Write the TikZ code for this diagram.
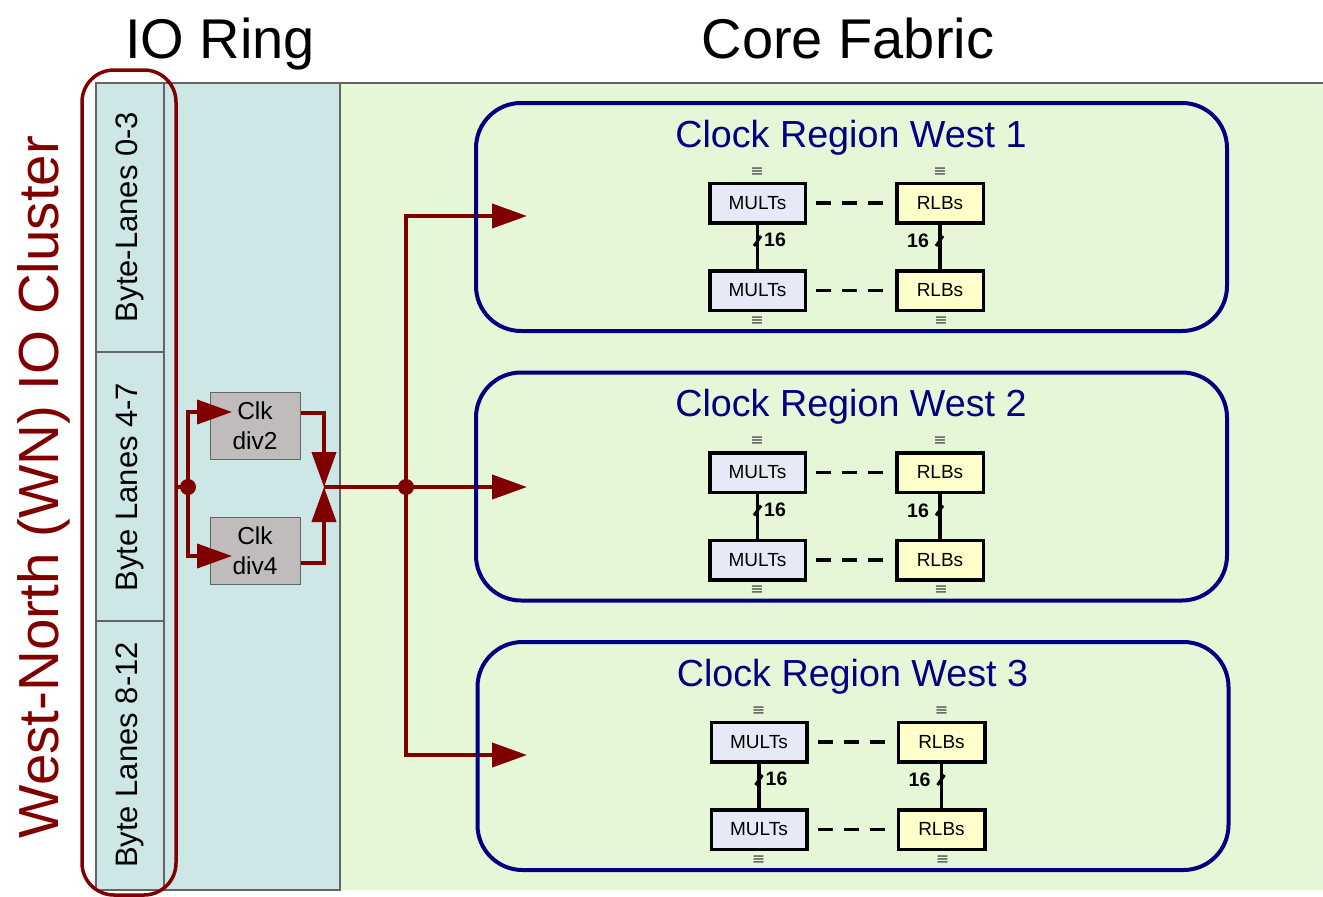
\documentclass[tikz,border=0pt]{standalone}
\usepackage{fontspec}
\setmainfont{Liberation Sans}
\newfontfamily\symbolfont{DejaVu Sans}
\usetikzlibrary{arrows.meta}
\definecolor{ringfill}{RGB}{205,230,230}
\definecolor{corefill}{RGB}{230,247,216}
\definecolor{clkred}{RGB}{128,0,0}
\definecolor{regionblue}{RGB}{0,0,128}
\definecolor{multfill}{RGB}{230,234,246}
\definecolor{rlbfill}{RGB}{255,255,204}
\definecolor{divfill}{RGB}{192,188,188}
\definecolor{edgegray}{RGB}{100,100,100}
\definecolor{markgray}{RGB}{70,70,70}

\begin{document}
\begin{tikzpicture}[x=1pt,y=-1pt,
  bigtitle/.style={anchor=base, inner sep=0pt, font=\fontsize{56}{56}\selectfont},
  clustertext/.style={rotate=90, anchor=base, inner sep=0pt, text=clkred, font=\fontsize{56.5}{56.5}\selectfont},
  lanetext/.style={rotate=90, anchor=base, inner sep=0pt, font=\fontsize{31}{31}\selectfont},
  clkdiv/.style={draw=edgegray, fill=divfill, line width=1pt, minimum width=90pt, minimum height=67pt,
    align=center, inner sep=0pt, font=\fontsize{24.5}{30}\selectfont},
  redwire/.style={draw=clkred, line width=4pt},
  redarrow/.style={redwire, -{Triangle[length=35pt,width=24pt]}},
  wiredot/.style={circle, fill=clkred, minimum size=16pt, inner sep=0pt},
  region/.style={draw=regionblue, line width=4pt, rounded corners=45pt, minimum width=751pt, minimum height=228pt},
  regiontitle/.style={anchor=base, inner sep=0pt, text=regionblue, font=\fontsize{37.7}{37.7}\selectfont},
  multbox/.style={draw=black, fill=multfill, line width=3.5pt, minimum width=95.5pt, minimum height=39.5pt,
    inner sep=0pt, font=\fontsize{19}{19}\selectfont},
  rlbbox/.style={multbox, fill=rlbfill, minimum width=86.5pt},
  buswire/.style={draw=black, line width=3.5pt},
  slashmark/.style={draw=black, line width=3pt},
  buslabel/.style={inner sep=0pt, font=\bfseries\fontsize{19.5}{19.5}\selectfont},
  dashlink/.style={draw=black, line width=3.5pt, dash pattern=on 15pt off 11pt},
  eqmark/.style={inner sep=0pt, text=markgray, font=\symbolfont\fontsize{16}{16}\selectfont}
]
\useasboundingbox (0,0) rectangle (1323,897);

% core fabric and IO ring backgrounds
\fill[corefill] (340,83) rectangle (1323,890);
\draw[edgegray, line width=1.2pt] (340,83) -- (1323,83);
\draw[edgegray, fill=ringfill, line width=1.2pt] (96,83) rectangle (340,890);

% byte lane columns
\draw[edgegray, line width=1.2pt] (96,83) rectangle (164,352);
\draw[edgegray, line width=1.2pt] (96,352) rectangle (164,621);
\draw[edgegray, line width=1.2pt] (96,621) rectangle (164,890);
\node[lanetext] (lane03) at (137,217) {Byte-Lanes 0-3};
\node[lanetext] (lane47) at (137,487) {Byte Lanes 4-7};
\node[lanetext] (lane812) at (137,755) {Byte Lanes 8-12};

% headings
\node[bigtitle] (ioring) at (220,58) {IO Ring};
\node[bigtitle] (corefab) at (848,58) {Core Fabric};
\node[clustertext] (cluster) at (58,487) {West-North (WN) IO Cluster};

% IO cluster outline
\draw[clkred, line width=3.5pt, rounded corners=32pt] (82,70) rectangle (176,895);

% clock dividers
\node[clkdiv] (div2) at (255,426) {Clk\\div2};
\node[clkdiv] (div4) at (255,551) {Clk\\div4};

% clock routing
\coordinate (clusterout) at (176,487);
\node[wiredot] (split) at (188,487) {};
\coordinate (d2in) at (232,412);
\coordinate (d4in) at (232,556);
\coordinate (d2out) at (301,413);
\coordinate (d4out) at (301,563);
\coordinate (merge) at (324,487);
\node[wiredot] (bus) at (406,487) {};
\coordinate (in1) at (527,216);
\coordinate (in2) at (527,487);
\coordinate (in3) at (527,755);

\draw[redwire] (clusterout) -- (split.center);
\draw[redarrow] (split.center) |- (d2in);
\draw[redarrow] (split.center) |- (d4in);
\draw[redarrow] (d2out) -| (merge);
\draw[redarrow] (d4out) -| (merge);
\draw[redwire] (merge) -- (bus.center);
\draw[redarrow] (bus.center) -- (in2);
\draw[redarrow] (bus.center) |- (in1);
\draw[redarrow] (bus.center) |- (in3);

% clock regions
\foreach \n/\dx/\dy in {1/0/0, 2/0/269.5, 3/1.5/539} {
  \begin{scope}[shift={(\dx,\dy)}]
    \node[region] (reg\n) at (851.5,217) {};
    \node[regiontitle] (title\n) at (851,147) {Clock Region West \n};
    \node[multbox] (mtop\n) at (757.5,203) {MULTs};
    \node[multbox] (mbot\n) at (757.5,290.5) {MULTs};
    \node[rlbbox] (rtop\n) at (940,203) {RLBs};
    \node[rlbbox] (rbot\n) at (940,290.5) {RLBs};
    \node[eqmark] (qm1\n) at (757,172) {≡};
    \node[eqmark] (qm2\n) at (757,321) {≡};
    \node[eqmark] (qr1\n) at (940,172) {≡};
    \node[eqmark] (qr2\n) at (941,321) {≡};
    \draw[buswire] (mtop\n) -- (mbot\n);
    \draw[buswire] (rtop\n) -- (rbot\n);
    \draw[slashmark] (754,246) -- (761,236);
    \draw[slashmark] (936,246) -- (943,236);
    \node[buslabel] (wm\n) at (775,240) {16};
    \node[buslabel] (wr\n) at (918,241) {16};
    \draw[dashlink, shorten <=9pt, shorten >=8pt] (mtop\n) -- (rtop\n);
    \draw[dashlink, shorten <=9pt, shorten >=8pt] (mbot\n) -- (rbot\n);
  \end{scope}
}
\end{tikzpicture}
\end{document}
